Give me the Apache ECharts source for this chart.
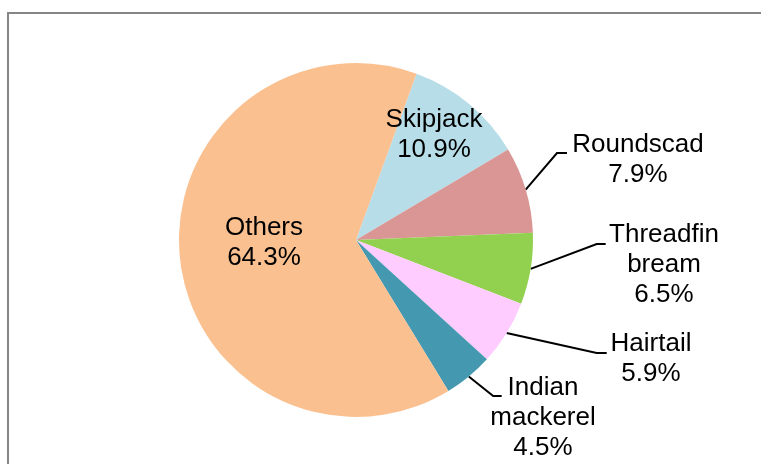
<!DOCTYPE html>
<html>
<head>
<meta charset="utf-8">
<script src="https://cdn.jsdelivr.net/npm/echarts@6/dist/echarts.min.js"></script>
<style>
  html, body { margin: 0; padding: 0; background: #fff; }
  #chart { width: 761px; height: 464px; }
</style>
</head>
<body>
<div id="chart"></div>
<script>
// ---- data ----
const categories = ['Skipjack', 'Roundscad', 'Threadfin bream', 'Hairtail', 'Indian mackerel', 'Others'];
const shares = [10.9, 7.9, 6.5, 5.9, 4.5, 64.3];

// ---- styles ----
const sliceColors = ['#B7DEE8', '#D99694', '#92D050', '#FFCCFF', '#4499B0', '#FAC090'];
const labelInside = [true, false, false, false, false, true];

// label block centres and leader line end offsets (layout)
const labelPlace = [
  { x: 434, y: 134.5 },
  { x: 638, y: 159.5, line: { dx: -71, dy: -6.5, len: 10 } },
  { x: 664, y: 264.5, line: { dx: -58.3, dy: -20.5, len: 9 } },
  { x: 651, y: 358.5, line: { dx: -44.3, dy: -5.5, len: 10 } },
  { x: 543, y: 418, line: { dx: -41.3, dy: -22, len: 8.5 } },
  { x: 264, y: 242.4 }
];

const chart = echarts.init(document.getElementById('chart'), null, { renderer: 'canvas' });

const seriesData = categories.map((name, i) => ({
  name: name,
  value: shares[i],
  itemStyle: { color: sliceColors[i] },
  label: { position: labelInside[i] ? 'inside' : 'outside' },
  labelLine: { show: !labelInside[i] }
}));

chart.setOption({
  animation: false,
  backgroundColor: '#ffffff',
  graphic: [{
    type: 'rect',
    shape: { x: 8, y: 13, width: 800, height: 500 },
    style: { fill: 'none', stroke: '#868686', lineWidth: 2 },
    silent: true,
    z: -1
  }],
  series: [{
    type: 'pie',
    center: [356, 240],
    radius: 177,
    startAngle: 70,
    clockwise: true,
    avoidLabelOverlap: false,
    itemStyle: { borderWidth: 0 },
    label: {
      show: true,
      color: '#000000',
      fontFamily: 'Liberation Sans, Arial, sans-serif',
      fontSize: 26,
      lineHeight: 30,
      overflow: 'none',
      formatter: (p) => p.name.replace(' ', '\n') + '\n' + p.value.toFixed(1) + '%'
    },
    labelLine: {
      show: true,
      length: 15,
      length2: 10,
      smooth: false,
      lineStyle: { color: '#000000', width: 2 }
    },
    labelLayout: function (params) {
      const p = labelPlace[params.dataIndex];
      const res = { x: p.x, y: p.y, align: 'center', verticalAlign: 'middle' };
      if (p.line && params.labelLinePoints) {
        const start = params.labelLinePoints[0];
        const end = [p.x + p.line.dx, p.y + p.line.dy];
        res.labelLinePoints = [start, [end[0] - p.line.len, end[1]], end];
      }
      return res;
    },
    emphasis: { disabled: true },
    data: seriesData
  }]
});
</script>
</body>
</html>
